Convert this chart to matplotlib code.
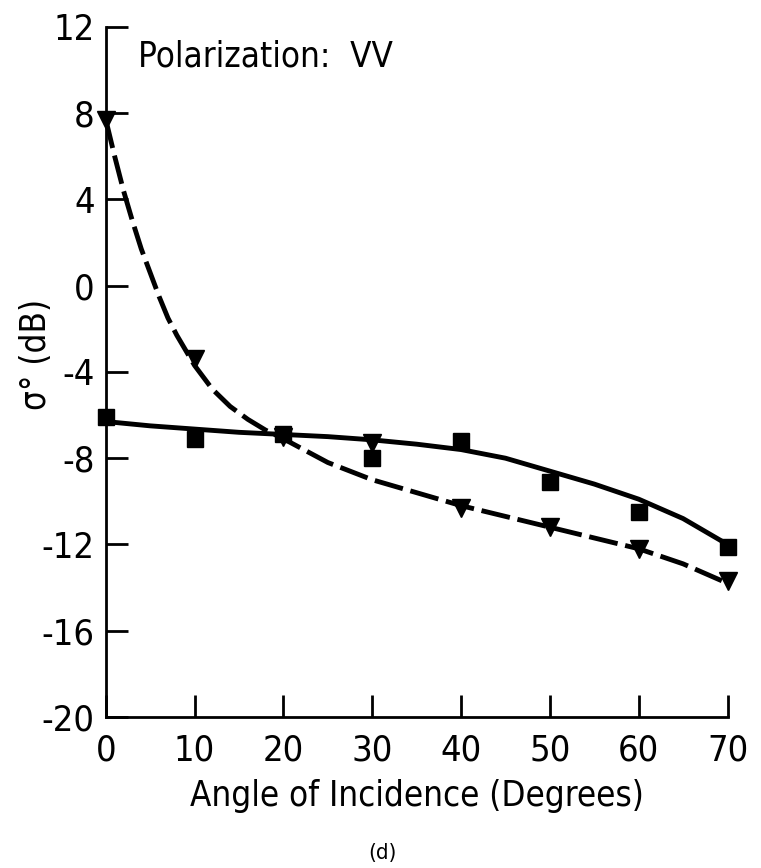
import matplotlib.pyplot as plt

# measured points
angle = [0, 10, 20, 30, 40, 50, 60, 70]
sq_vals = [-6.1, -7.1, -6.9, -8.0, -7.2, -9.1, -10.5, -12.1]
tri_vals = [7.7, -3.4, -7.0, -7.3, -10.3, -11.2, -12.2, -13.7]

# hand drawn curves
solid_x = [0, 5, 10, 15, 20, 25, 30, 35, 40, 45, 50, 55, 60, 65, 70]
solid_y = [-6.3, -6.5, -6.65, -6.8, -6.9, -7.0, -7.15, -7.35, -7.6, -8.0, -8.6, -9.2, -9.9, -10.8, -12.0]
dash_x = [0, 1, 2, 3, 4, 5, 6, 7, 8, 9, 10, 12, 14, 16, 18, 20, 25, 30, 35, 40, 45, 50, 55, 60, 65, 70]
dash_y = [7.7, 6.0, 4.4, 3.0, 1.7, 0.6, -0.5, -1.5, -2.3, -3.0, -3.7, -4.8, -5.6, -6.2, -6.7, -7.1,
          -8.2, -9.0, -9.6, -10.2, -10.7, -11.2, -11.7, -12.2, -12.9, -13.8]

xticks = [0, 10, 20, 30, 40, 50, 60, 70]
yticks = [-20, -16, -12, -8, -4, 0, 4, 8, 12]

plt.rcParams['font.family'] = ['DejaVu Sans']
plt.rcParams['font.stretch'] = 'condensed'
plt.rcParams['axes.unicode_minus'] = False

fig = plt.figure(figsize=(7.61, 8.68), dpi=100)
ax = fig.add_axes([0.139, 0.174, 0.817, 0.795])

ax.plot(solid_x, solid_y, color='black', lw=3.5, solid_capstyle='round')
ax.plot(dash_x, dash_y, color='black', lw=3.5, dashes=(6, 1.6))
ax.plot(angle, sq_vals, linestyle='none', marker='s', ms=11.5, color='black', clip_on=False)
ax.plot(angle, tri_vals, linestyle='none', marker='v', ms=13.5, color='black', clip_on=False)

ax.set_xlim(0, 70)
ax.set_ylim(-20, 12)
ax.set_xticks(xticks)
ax.set_yticks(yticks)
ax.spines['top'].set_visible(False)
ax.spines['right'].set_visible(False)
ax.spines['left'].set_linewidth(2)
ax.spines['bottom'].set_linewidth(2)
ax.tick_params(direction='in', length=16, width=2, labelsize=26, pad=8)
ax.tick_params(axis='x', pad=12)

ax.set_xlabel('Angle of Incidence (Degrees)', fontsize=25, labelpad=8)
ax.set_ylabel('σ° (dB)', fontsize=25)
ax.yaxis.set_label_coords(-0.085, 0.525)
ax.text(3.6, 10.15, 'Polarization:  VV', fontsize=25, va='baseline', ha='left')
fig.text(0.503, 0.006, '(d)', fontsize=16, ha='center', va='bottom')

fig.savefig('out.png', dpi=100)
